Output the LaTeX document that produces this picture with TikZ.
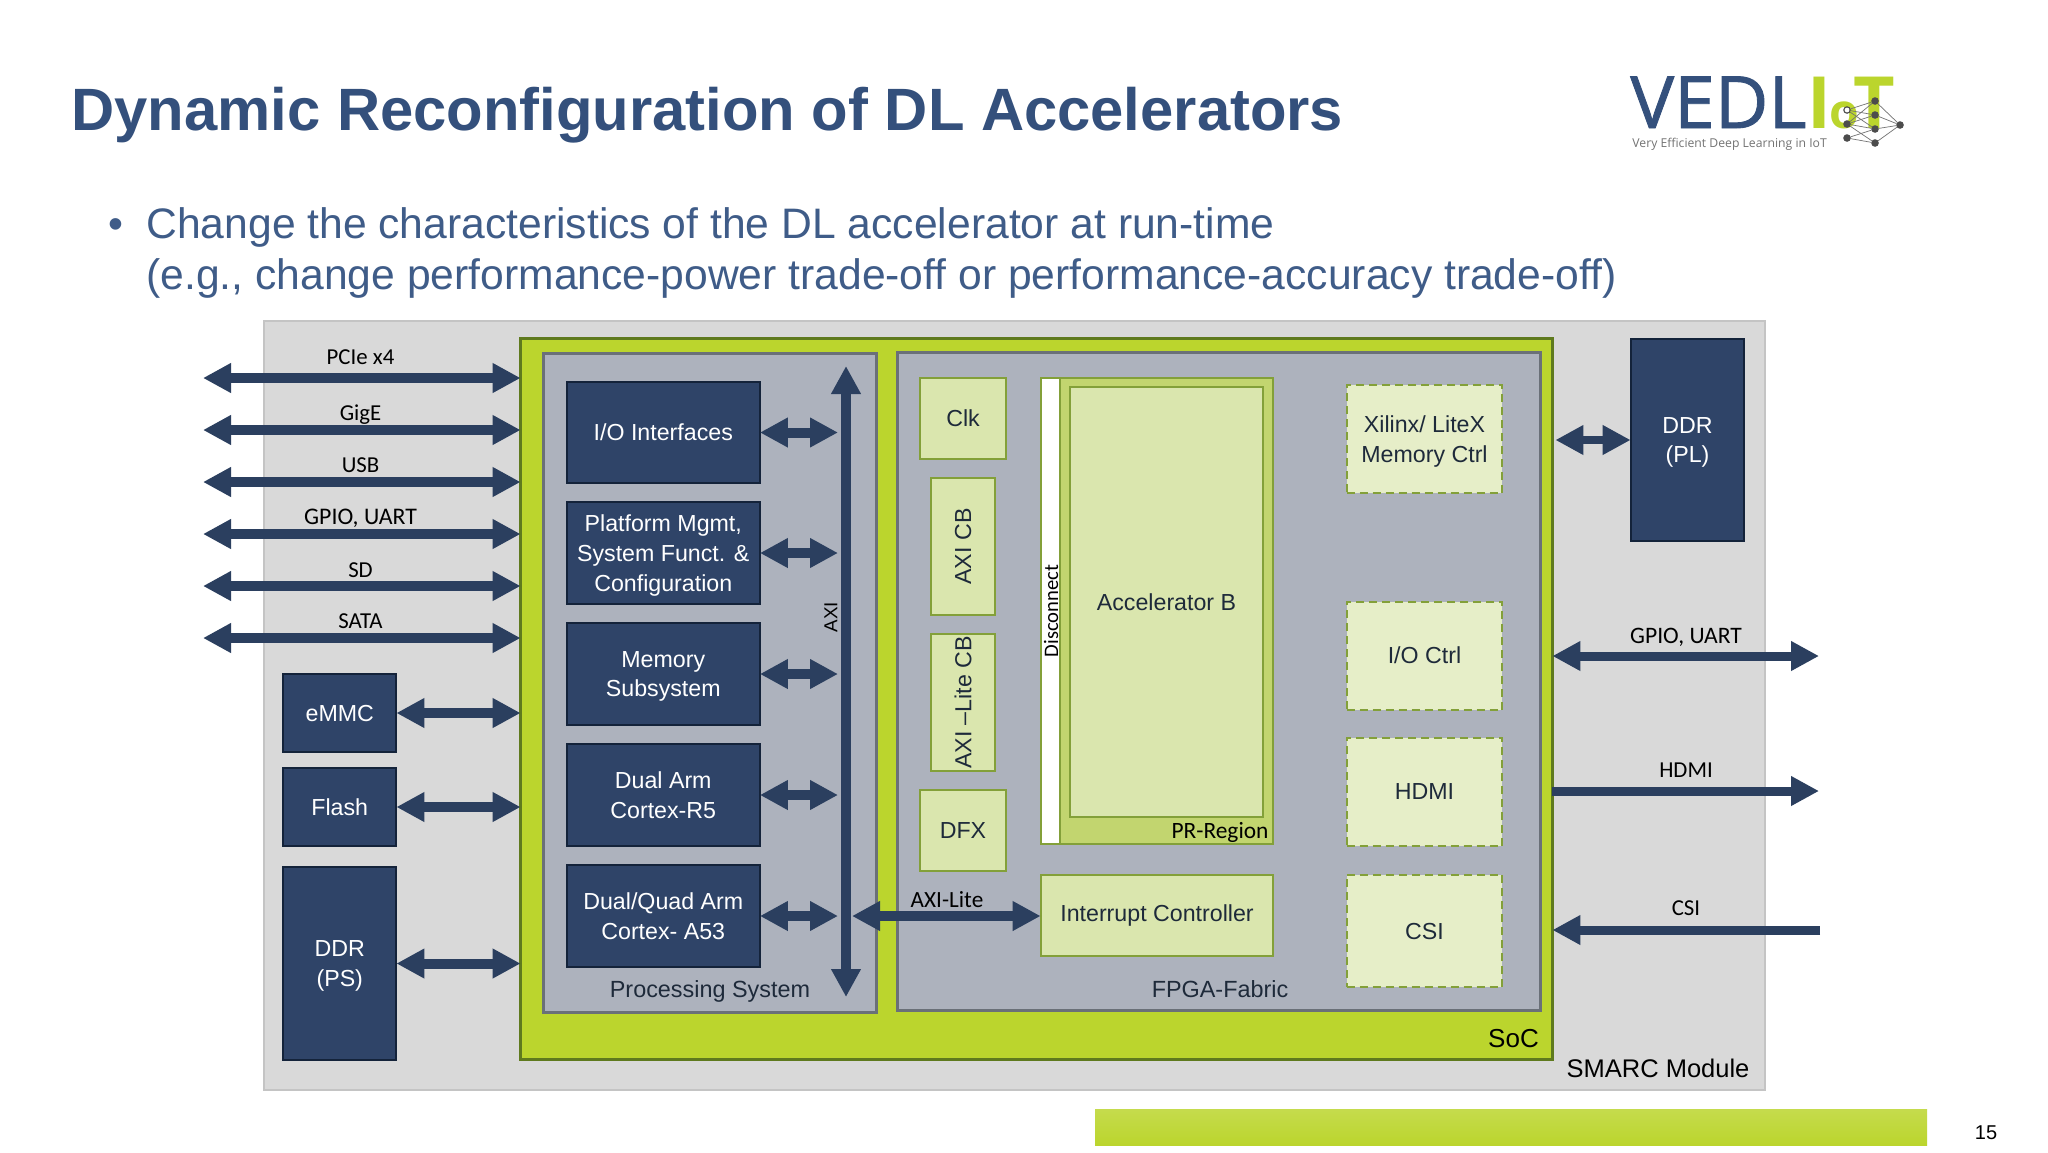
\documentclass[tikz,border=0pt]{standalone}
\usepackage{fontspec}
\usepackage{graphicx}
\setmainfont{Liberation Sans}
\newfontfamily\cali{Carlito}
\newfontfamily\logof{Open Sans}
\newfontfamily\logob[FakeBold=1.2,FakeStretch=1.02]{Open Sans}
\usetikzlibrary{arrows.meta,calc}
\definecolor{navy}{HTML}{2F4468}
\definecolor{navyline}{HTML}{14233A}
\definecolor{arrowc}{HTML}{2B3F5F}
\definecolor{titlec}{HTML}{34507C}
\definecolor{bodyc}{HTML}{3F5C88}
\definecolor{smarc}{HTML}{D9D9D9}
\definecolor{smarcl}{HTML}{C4C4C4}
\definecolor{lime}{HTML}{BBD52D}
\definecolor{limel}{HTML}{5F7A1E}
\definecolor{sys}{HTML}{ADB2BD}
\definecolor{sysl}{HTML}{6A7078}
\definecolor{pale}{HTML}{DAE6AE}
\definecolor{palel}{HTML}{83A039}
\definecolor{dash}{HTML}{E6EEC8}
\definecolor{prreg}{HTML}{C2D56F}
\definecolor{inkc}{HTML}{1E2A3A}
\tikzset{
  basebox/.style={rectangle,inner sep=0pt,outer sep=0pt,align=center,font=\fontsize{11.6}{14.8}\selectfont},
  sysbox/.style={basebox,fill=#1,draw=sysl,line width=1.2pt},
  navybox/.style={basebox,fill=navy,draw=navyline,line width=1pt,text=white},
  palebox/.style={basebox,fill=pale,draw=palel,line width=1pt,text=inkc},
  dashbox/.style={basebox,fill=dash,draw=palel,line width=1pt,dash pattern=on 4pt off 2.5pt,text=inkc},
  lab/.style={inner sep=0pt,outer sep=0pt,text=black,font=\cali\fontsize{11.4}{13}\selectfont},
  plain/.style={inner sep=0pt,outer sep=0pt,text=inkc,font=\fontsize{11.7}{14}\selectfont},
  bi/.style={line width=5pt,draw=arrowc,{Triangle[length=14pt,width=14pt]}-{Triangle[length=14pt,width=14pt]}},
  toR/.style={line width=5pt,draw=arrowc,-{Triangle[length=14pt,width=14pt]}},
  thin bi/.style={line width=4pt,draw=arrowc,{Triangle[length=14pt,width=14pt]}-{Triangle[length=14pt,width=14pt]}},
  dotn/.style={circle,fill=#1,inner sep=0pt,outer sep=0pt,minimum size=3.8pt},
  net/.style={draw=#1,line width=0.35pt}
}
\newcommand{\bx}[7]{\node[#1,minimum width={(#5-#3)*0.5pt-0.6pt},minimum height={(#6-#4)*0.5pt-0.6pt}] (#2) at ({(#3+#5)/2},{(#4+#6)/2}) {#7};}
\begin{document}
\begin{tikzpicture}[x=0.5pt,y=-0.5pt]
\useasboundingbox (0,0) rectangle (2048,1152);
\fill[white] (0,0) rectangle (2048,1152);

% title and bullets
\node[anchor=base west,inner sep=0pt,text=titlec,font=\bfseries\fontsize{29.88}{34}\selectfont] (title) at (71,130) {Dynamic Reconfiguration of DL Accelerators};
\node[anchor=base,inner sep=0pt,text=bodyc,font=\fontsize{21.3}{26}\selectfont] (bul) at (116,238) {•};
\node[anchor=base west,inner sep=0pt,text=bodyc,font=\fontsize{21.32}{26}\selectfont] (l1) at (146,238) {Change the characteristics of the DL accelerator at run-time};
\node[anchor=base west,inner sep=0pt,text=bodyc,font=\fontsize{21.32}{26}\selectfont] (l2) at (146,289) {(e.g., change performance-power trade-off or performance-accuracy trade-off)};

% logo
\node[anchor=base west,inner sep=0pt,text=titlec,font=\logob\fontsize{36}{40}\selectfont] (lv) at (1630,128) {VEDL};
\node[anchor=base west,inner sep=0pt,text=lime,font=\logof\bfseries\fontsize{36}{40}\selectfont] (li) at (1807,128) {I};
\node[anchor=base west,inner sep=0pt,text=lime,font=\logof\bfseries\fontsize{24}{40}\selectfont] (lo) at (1829,128) {o};
\node[anchor=base west,inner sep=0pt,text=lime,font=\logof\bfseries\fontsize{36}{40}\selectfont] (lt) at (1853,128) {T};
\node[anchor=base west,inner sep=0pt,text=black!55,font=\logof\fontsize{6.1}{7}\selectfont] (ltag) at (1632,147) {Very Efficient Deep Learning in IoT};
\foreach \n/\x/\y in {a1/1847/110,a2/1847/124,a3/1847/138,b1/1875/101,b2/1875/115,b3/1875/129,b4/1875/143,c1/1900/125}{
  \node[dotn=black!70] (\n) at (\x,\y) {};
}
\node[dotn=white,minimum size=2.4pt] (a0) at (1847,110) {};
\foreach \s/\t in {a1/b1,a1/b2,a1/b3,a2/b1,a2/b2,a2/b3,a2/b4,a3/b3,a3/b4,b1/c1,b2/c1,b3/c1,b4/c1}{
  \draw[net=black!55] (\s) -- (\t);
}

% containers
\bx{basebox,fill=smarc,draw=smarcl,line width=1pt}{smarcm}{263}{320}{1766}{1091}{}
\bx{basebox,fill=lime,draw=limel,line width=1.2pt}{soc}{520}{338}{1553}{1060}{}
\bx{sysbox=sys}{ps}{543}{353}{877}{1013}{}
\bx{sysbox=sys}{fpga}{897}{352}{1541}{1011}{}

% processing system blocks
\bx{navybox}{ioif}{566}{381}{760.5}{484}{I/O Interfaces}
\bx{navybox}{pm}{566}{501}{760.5}{605}{Platform Mgmt,\\System Funct. \&\\\smash{Configuration}}
\bx{navybox}{mem}{566}{622}{760.5}{726}{Memory\\\smash{Subsystem}}
\bx{navybox}{rfive}{566}{743}{760.5}{847}{Dual Arm\\Cortex-R5}
\bx{navybox}{afs}{566}{864}{760.5}{968}{Dual/Quad Arm\\Cortex- A53}

% external memories
\bx{navybox}{emmc}{282.5}{673}{397}{753}{eMMC}
\bx{navybox}{flash}{282.5}{767}{397}{847}{Flash}
\bx{navybox}{ddrps}{282.5}{866}{397}{1061}{DDR\\\smash{(PS)}}
\bx{navybox}{ddrpl}{1630}{338}{1745}{542}{DDR\\\smash{(PL)}}

% FPGA blocks
\bx{palebox}{clk}{919}{377}{1007}{460}{Clk}
\bx{palebox}{axicb}{930}{477}{996}{616}{\rotatebox{90}{AXI CB}}
\bx{palebox}{axilcb}{930}{633}{996}{772}{\rotatebox{90}{AXI –Lite CB}}
\bx{palebox}{dfx}{919}{789}{1007}{872}{DFX}
\bx{palebox,fill=prreg}{prr}{1040}{377}{1274}{845}{}
\bx{basebox,fill=white}{disc}{1041}{378.5}{1061}{843.5}{}
\draw[palel,line width=1pt] (disc.north east) -- (disc.south east);
\bx{palebox}{accb}{1069}{386}{1264}{818}{Accelerator B}
\bx{palebox}{intc}{1040}{874}{1274}{957}{Interrupt Controller}
\bx{dashbox}{xil}{1346}{384}{1503}{494}{Xilinx/ LiteX\\\smash{Memory Ctrl}}
\bx{dashbox}{ioc}{1346}{601}{1503}{711}{\raisebox{1pt}{I/O Ctrl}}
\bx{dashbox}{hdmi}{1346}{737}{1503}{847}{HDMI}
\bx{dashbox}{csi}{1346}{874}{1503}{988}{CSI}

% region labels
\node[plain,font=\cali\fontsize{10.3}{12}\selectfont,text=black,rotate=90] (disl) at (1051,611) {Disconnect};
\node[lab,font=\cali\fontsize{11.7}{13}\selectfont] (prl) at (1220,832) {PR-Region};
\node[plain] (psl) at (710,991) {Processing System};
\node[plain] (fpl) at (1220,989) {FPGA-Fabric};
\node[plain,text=black,font=\fontsize{13}{15}\selectfont] (socl) at (1513.5,1039) {SoC};
\node[plain,text=black,font=\fontsize{12.75}{14}\selectfont] (sml) at (1658,1068) {SMARC Module};

% left interface arrows
\foreach \n/\y/\t/\ly/\fs in {pcie/378/PCIe x4/357/11.4,gige/430/GigE/414.5/11.4,usb/482/USB/465/11.4,gpio/534/{GPIO, UART}/518.5/11.9,sd/586/SD/570/11.4,sata/638/SATA/621/11.4}{
  \coordinate (\n) at (203,\y);
  \draw[bi] (\n) -- (\n -| soc.west);
  \node[lab,font=\cali\fontsize{\fs}{13}\selectfont] (\n l) at (360.5,\ly) {\t};
}
\draw[bi] (emmc.east) -- (emmc.east -| soc.west);
\draw[bi] (flash.east) -- (flash.east -| soc.west);
\draw[bi] (ddrps.east) -- (ddrps.east -| soc.west);

% AXI bus
\coordinate (axit) at (846,366);
\coordinate (axib) at (846,997);
\draw[bi] (axit) -- (axib);
\node[plain,text=black,font=\fontsize{9.4}{11}\selectfont,rotate=90] (axil) at (831,617) {AXI};
\foreach \b in {ioif,pm,mem,rfive,afs}{
  \draw[bi] (\b.east) -- ($(\b.east -| axit)+(-8,0)$);
}
\coordinate (axil0) at (852,916);
\draw[bi] (axil0) -- (intc.west |- axil0);
\node[lab,font=\cali\fontsize{11.6}{13}\selectfont] (alab) at (947,900) {AXI-Lite};

% right arrows
\draw[thin bi] (soc.east |- ddrpl.center) ++(3,0) coordinate (dl) (dl) -- (ddrpl.west |- dl);
\coordinate (gpr) at (1819,656);
\draw[bi,line width=4.5pt] (gpr -| soc.east) -- (gpr);
\node[lab,font=\cali\fontsize{11.8}{13}\selectfont] (gprl) at (1686,637.5) {GPIO, UART};
\coordinate (hdr) at (1819,791);
\draw[toR,line width=4.5pt] (hdr -| soc.east) -- (hdr);
\node[lab] (hdrl) at (1686,770) {HDMI};
\coordinate (csr) at (1820,930);
\draw[toR,line width=4.5pt] (csr) -- (csr -| soc.east);
\node[lab] (csrl) at (1686,908) {CSI};

% footer
\path[top color=lime!85!white,bottom color=lime] (1095,1109) rectangle (1927,1145);
\node[inner sep=0pt,text=black,font=\fontsize{10}{12}\selectfont] (pg) at (1986,1133) {15};
\end{tikzpicture}
\end{document}
